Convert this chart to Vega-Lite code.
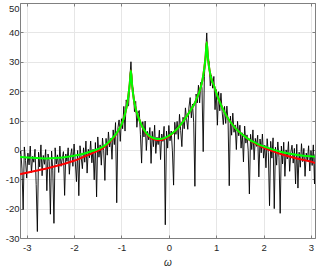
{
  "$schema": "https://vega.github.io/schema/vega-lite/v6.json",
  "width": 295,
  "height": 235,
  "autosize": {"type": "none"},
  "padding": {"left": 20, "top": 3, "right": 4, "bottom": 30},
  "background": "white",
  "config": {"view": {"stroke": null}, "font": "Liberation Sans"},
  "datasets": {
    "pg": [
      {"w":-3.14,"p":-1.4},{"w":-3.125,"p":-0.4},{"w":-3.1,"p":-6.5},{"w":-3.075,"p":-20.3},{"w":-3.05,"p":1.0},{"w":-3.025,"p":-3.6},{"w":-3.0,"p":-9.6},{"w":-2.975,"p":-1.1},{"w":-2.95,"p":-5.1},{"w":-2.925,"p":1.3},{"w":-2.9,"p":-7.7},{"w":-2.875,"p":-2.2},{"w":-2.85,"p":-4.2},{"w":-2.825,"p":0.2},{"w":-2.8,"p":-11.8},{"w":-2.775,"p":-27.8},{"w":-2.75,"p":-0.8},{"w":-2.725,"p":-5.8},{"w":-2.7,"p":1.7},{"w":-2.675,"p":-8.8},{"w":-2.65,"p":-1.9},{"w":-2.625,"p":-4.9},{"w":-2.6,"p":0.1},{"w":-2.575,"p":-13.9},{"w":-2.55,"p":-1.4},{"w":-2.525,"p":-3.9},{"w":-2.5,"p":-21.9},{"w":-2.475,"p":-0.4},{"w":-2.45,"p":-6.9},{"w":-2.425,"p":-25},{"w":-2.4,"p":0.7},{"w":-2.375,"p":-4.8},{"w":-2.35,"p":-1.7},{"w":-2.325,"p":-7.7},{"w":-2.3,"p":1.3},{"w":-2.275,"p":-5.6},{"w":-2.25,"p":-3.1},{"w":-2.225,"p":-0.6},{"w":-2.2,"p":-15.5},{"w":-2.175,"p":-1.4},{"w":-2.15,"p":-3.9},{"w":-2.125,"p":0.7},{"w":-2.1,"p":-8.3},{"w":-2.075,"p":-2.2},{"w":-2.05,"p":0.4},{"w":-2.025,"p":-5.6},{"w":-2.0,"p":2.0},{"w":-1.975,"p":-3.9},{"w":-1.95,"p":-10.8},{"w":-1.925,"p":-0.2},{"w":-1.9,"p":-15.6},{"w":-1.875,"p":1.4},{"w":-1.85,"p":-2.5},{"w":-1.825,"p":-6.4},{"w":-1.8,"p":0.7},{"w":-1.775,"p":-4.2},{"w":-1.75,"p":3.0},{"w":-1.725,"p":-7.9},{"w":-1.7,"p":0.2},{"w":-1.675,"p":-2.7},{"w":-1.65,"p":3.0},{"w":-1.625,"p":-4.4},{"w":-1.6,"p":0.2},{"w":-1.575,"p":-10.2},{"w":-1.55,"p":2.5},{"w":-1.525,"p":-16},{"w":-1.5,"p":4.4},{"w":-1.475,"p":-2.5},{"w":-1.45,"p":1.7},{"w":-1.425,"p":-5.2},{"w":-1.4,"p":4.0},{"w":-1.375,"p":-0.2},{"w":-1.35,"p":-10.4},{"w":-1.325,"p":3.9},{"w":-1.3,"p":-1.8},{"w":-1.275,"p":6.1},{"w":-1.25,"p":1.0},{"w":-1.225,"p":3.9},{"w":-1.2,"p":-3.2},{"w":-1.175,"p":6.8},{"w":-1.15,"p":1.8},{"w":-1.125,"p":9.3},{"w":-1.1,"p":-18},{"w":-1.075,"p":7.5},{"w":-1.05,"p":10.2},{"w":-1.025,"p":2.9},{"w":-1.0,"p":10.6},{"w":-0.975,"p":7.2},{"w":-0.95,"p":14.8},{"w":-0.925,"p":6.4},{"w":-0.9,"p":17},{"w":-0.875,"p":15},{"w":-0.85,"p":15},{"w":-0.825,"p":24},{"w":-0.8,"p":30},{"w":-0.775,"p":22},{"w":-0.75,"p":20.5},{"w":-0.725,"p":13},{"w":-0.7,"p":16.5},{"w":-0.675,"p":7.7},{"w":-0.65,"p":12.5},{"w":-0.625,"p":13.4},{"w":-0.6,"p":5.3},{"w":-0.575,"p":-4.5},{"w":-0.55,"p":9.6},{"w":-0.525,"p":4.4},{"w":-0.5,"p":9.8},{"w":-0.475,"p":-0.2},{"w":-0.45,"p":6.3},{"w":-0.425,"p":3.4},{"w":-0.4,"p":7.6},{"w":-0.375,"p":-4.6},{"w":-0.35,"p":6.3},{"w":-0.325,"p":1.1},{"w":-0.3,"p":8.4},{"w":-0.275,"p":-1.2},{"w":-0.25,"p":4.3},{"w":-0.225,"p":1.8},{"w":-0.2,"p":6.7},{"w":-0.175,"p":-3.3},{"w":-0.15,"p":5.4},{"w":-0.125,"p":2.9},{"w":-0.1,"p":8.0},{"w":-0.075,"p":-25.5},{"w":-0.05,"p":6.4},{"w":-0.025,"p":0.6},{"w":0,"p":8.3},{"w":0.025,"p":3.1},{"w":0.05,"p":6.4},{"w":0.075,"p":-0.3},{"w":0.1,"p":-12},{"w":0.125,"p":9.4},{"w":0.15,"p":5.3},{"w":0.175,"p":9.7},{"w":0.2,"p":3.6},{"w":0.225,"p":12.1},{"w":0.25,"p":6.6},{"w":0.275,"p":1.1},{"w":0.3,"p":11.1},{"w":0.325,"p":7.2},{"w":0.35,"p":14.3},{"w":0.375,"p":10.4},{"w":0.4,"p":7.0},{"w":0.425,"p":14.6},{"w":0.45,"p":17.8},{"w":0.475,"p":10.9},{"w":0.5,"p":15.6},{"w":0.525,"p":9.3},{"w":0.55,"p":-12.4},{"w":0.575,"p":19},{"w":0.6,"p":16},{"w":0.625,"p":22},{"w":0.65,"p":16},{"w":0.675,"p":23},{"w":0.7,"p":21},{"w":0.725,"p":-0.6},{"w":0.75,"p":25},{"w":0.775,"p":32.5},{"w":0.8,"p":39.8},{"w":0.825,"p":30.5},{"w":0.85,"p":30},{"w":0.875,"p":21.8},{"w":0.9,"p":25.5},{"w":0.925,"p":21},{"w":0.95,"p":25},{"w":0.975,"p":13.7},{"w":1.0,"p":20.5},{"w":1.025,"p":8.4},{"w":1.05,"p":19.8},{"w":1.075,"p":13.3},{"w":1.1,"p":19.3},{"w":1.125,"p":13},{"w":1.15,"p":8.6},{"w":1.175,"p":14.8},{"w":1.2,"p":9},{"w":1.225,"p":14.9},{"w":1.25,"p":9.8},{"w":1.275,"p":-12.2},{"w":1.3,"p":11.5},{"w":1.325,"p":5},{"w":1.35,"p":12.5},{"w":1.375,"p":6},{"w":1.4,"p":8.5},{"w":1.425,"p":0.1},{"w":1.45,"p":9.7},{"w":1.475,"p":4.8},{"w":1.5,"p":8.4},{"w":1.525,"p":0.6},{"w":1.55,"p":5.8},{"w":1.575,"p":-4.1},{"w":1.6,"p":8.1},{"w":1.625,"p":2.3},{"w":1.65,"p":5.1},{"w":1.675,"p":-0.2},{"w":1.7,"p":-15},{"w":1.725,"p":5.3},{"w":1.75,"p":0.1},{"w":1.775,"p":6.8},{"w":1.8,"p":-3.4},{"w":1.825,"p":3.9},{"w":1.85,"p":1.2},{"w":1.875,"p":5.0},{"w":1.9,"p":-9.2},{"w":1.925,"p":3.7},{"w":1.95,"p":-1.0},{"w":1.975,"p":5.4},{"w":2.0,"p":-2.8},{"w":2.025,"p":1.6},{"w":2.05,"p":-6.1},{"w":2.075,"p":3.8},{"w":2.1,"p":-0.9},{"w":2.125,"p":-19},{"w":2.15,"p":2.9},{"w":2.175,"p":-2.8},{"w":2.2,"p":4.1},{"w":2.225,"p":-20},{"w":2.25,"p":0.9},{"w":2.275,"p":-5.2},{"w":2.3,"p":2.7},{"w":2.325,"p":-2.5},{"w":2.35,"p":-21.6},{"w":2.375,"p":1.3},{"w":2.4,"p":-4.8},{"w":2.425,"p":2.6},{"w":2.45,"p":-9},{"w":2.475,"p":0},{"w":2.5,"p":-3.1},{"w":2.525,"p":2.8},{"w":2.55,"p":-7.3},{"w":2.575,"p":-0.8},{"w":2.6,"p":1.6},{"w":2.625,"p":-4.5},{"w":2.65,"p":0.5},{"w":2.675,"p":-11.6},{"w":2.7,"p":1.9},{"w":2.725,"p":-13},{"w":2.75,"p":-0.8},{"w":2.775,"p":-5.9},{"w":2.8,"p":2.1},{"w":2.825,"p":-4.0},{"w":2.85,"p":0.5},{"w":2.875,"p":-9.0},{"w":2.9,"p":-1.1},{"w":2.925,"p":-3.6},{"w":2.95,"p":1.4},{"w":2.975,"p":-7.2},{"w":3.0,"p":-0.2},{"w":3.025,"p":-5.3},{"w":3.05,"p":1.7},{"w":3.075,"p":-11.6},{"w":3.085,"p":-1.5}
    ],
    "est": [
      {"w":-3.14,"red":-8.3,"green":-2.4},{"w":-3.0,"red":-7.8,"green":-2.6},{"w":-2.8,"red":-7.1,"green":-2.8},{"w":-2.6,"red":-6.4,"green":-2.9},{"w":-2.4,"red":-5.6,"green":-2.8},{"w":-2.2,"red":-4.7,"green":-2.5},{"w":-2.0,"red":-3.7,"green":-2.0},{"w":-1.8,"red":-2.4,"green":-1.3},{"w":-1.6,"red":-1.0,"green":-0.3},{"w":-1.4,"red":0.5,"green":1.0},{"w":-1.3,"red":1.8,"green":2.2},{"w":-1.2,"red":3.5,"green":3.8},{"w":-1.1,"red":5.6,"green":5.8},{"w":-1.0,"red":8.6,"green":8.6},{"w":-0.95,"red":10.8,"green":10.8},{"w":-0.9,"red":14,"green":14},{"w":-0.875,"red":16,"green":16},{"w":-0.85,"red":19,"green":19},{"w":-0.825,"red":22.5,"green":22.5},{"w":-0.8,"red":27,"green":27},{"w":-0.775,"red":22,"green":22},{"w":-0.75,"red":18.5,"green":18.5},{"w":-0.725,"red":16,"green":16},{"w":-0.7,"red":14,"green":14},{"w":-0.65,"red":11.5,"green":11.5},{"w":-0.6,"red":9.3,"green":9.3},{"w":-0.55,"red":7.5,"green":7.6},{"w":-0.5,"red":6.1,"green":6.3},{"w":-0.45,"red":5.0,"green":5.3},{"w":-0.4,"red":4.3,"green":4.6},{"w":-0.3,"red":3.5,"green":3.9},{"w":-0.2,"red":3.3,"green":3.7},{"w":-0.1,"red":3.7,"green":4.0},{"w":0,"red":4.6,"green":4.8},{"w":0.1,"red":5.9,"green":6.0},{"w":0.2,"red":7.6,"green":7.6},{"w":0.3,"red":9.6,"green":9.6},{"w":0.4,"red":12.0,"green":12.0},{"w":0.5,"red":14.6,"green":14.6},{"w":0.55,"red":16.0,"green":16.0},{"w":0.6,"red":18.0,"green":18.0},{"w":0.65,"red":20.0,"green":20.0},{"w":0.7,"red":23.0,"green":23.0},{"w":0.725,"red":25.2,"green":25.2},{"w":0.75,"red":28,"green":28},{"w":0.775,"red":31.5,"green":31.5},{"w":0.8,"red":36.6,"green":36.6},{"w":0.825,"red":31.5,"green":31.5},{"w":0.85,"red":28,"green":28},{"w":0.875,"red":25.8,"green":25.8},{"w":0.9,"red":24,"green":24},{"w":0.95,"red":22,"green":22},{"w":1.0,"red":19.5,"green":19.5},{"w":1.05,"red":17.3,"green":17.3},{"w":1.1,"red":15.3,"green":15.3},{"w":1.2,"red":12,"green":12},{"w":1.3,"red":9.5,"green":9.5},{"w":1.4,"red":7.5,"green":7.5},{"w":1.5,"red":5.9,"green":5.9},{"w":1.6,"red":4.6,"green":4.6},{"w":1.7,"red":3.4,"green":3.5},{"w":1.8,"red":2.4,"green":2.6},{"w":1.9,"red":1.5,"green":1.8},{"w":2.0,"red":0.8,"green":1.2},{"w":2.2,"red":-0.5,"green":0.1},{"w":2.4,"red":-1.6,"green":-0.8},{"w":2.6,"red":-2.5,"green":-1.4},{"w":2.8,"red":-3.3,"green":-1.9},{"w":3.0,"red":-4.0,"green":-2.2},{"w":3.085,"red":-4.5,"green":-2.3}
    ]
  },
  "layer": [
    {
      "data": {"name": "pg"},
      "mark": {"type": "line", "color": "#000000", "strokeWidth": 0.9, "clip": true},
      "encoding": {
        "x": {"field": "w", "type": "quantitative",
          "scale": {"domain": [-3.1416, 3.085], "nice": false, "zero": false},
          "axis": {"orient": "bottom", "values": [-3,-2,-1,0,1,2,3], "labelExpr": "datum.value",
            "grid": true, "gridColor": "#e6e6e6", "gridWidth": 1,
            "domainColor": "#808080", "domainWidth": 1, "tickColor": "#808080", "tickSize": -3,
            "labelFontSize": 9.5, "labelColor": "#262626", "labelPadding": 7,
            "title": "ω", "titleFontStyle": "italic", "titleFontWeight": "normal", "titleFontSize": 10,
            "titleColor": "#262626", "titlePadding": 6}},
        "y": {"field": "p", "type": "quantitative",
          "scale": {"domain": [-30, 50], "nice": false, "zero": false},
          "axis": {"orient": "left", "values": [-30,-20,-10,0,10,20,30,40,50], "labelExpr": "datum.value",
            "labelBaseline": {"condition": {"test": "datum.value == 50", "value": "top"}, "value": "middle"},
            "grid": true, "gridColor": "#e6e6e6", "gridWidth": 1,
            "domainColor": "#808080", "domainWidth": 1, "tickColor": "#808080", "tickSize": -3,
            "labelFontSize": 9.5, "labelColor": "#262626", "labelPadding": 4, "title": null}}
      }
    },
    {
      "data": {"name": "est"},
      "mark": {"type": "line", "color": "#ff0000", "strokeWidth": 2, "interpolate": "monotone", "clip": true},
      "encoding": {
        "x": {"field": "w", "type": "quantitative",
          "axis": {"orient": "top", "values": [-3,-2,-1,0,1,2,3], "labels": false, "grid": false,
            "domainColor": "#808080", "domainWidth": 1, "tickColor": "#808080", "tickSize": -3, "title": null}},
        "y": {"field": "red", "type": "quantitative",
          "axis": {"orient": "right", "values": [-30,-20,-10,0,10,20,30,40,50], "labels": false, "grid": false,
            "domainColor": "#808080", "domainWidth": 1, "tickColor": "#808080", "tickSize": -3, "title": null}}
      }
    },
    {
      "data": {"name": "est"},
      "mark": {"type": "line", "color": "#00ff00", "strokeWidth": 2, "interpolate": "monotone", "clip": true},
      "encoding": {
        "x": {"field": "w", "type": "quantitative", "axis": null},
        "y": {"field": "green", "type": "quantitative", "axis": null}
      }
    }
  ],
  "resolve": {"axis": {"x": "independent", "y": "independent"}}
}
